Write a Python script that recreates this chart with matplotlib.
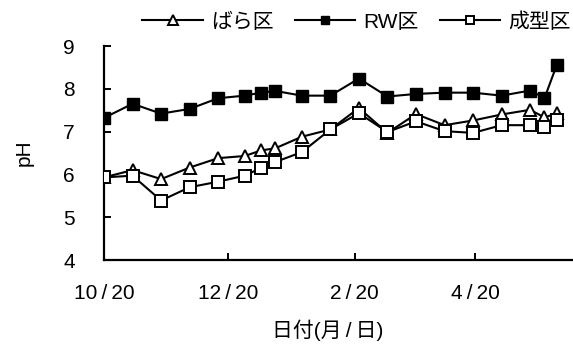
import matplotlib
matplotlib.use("Agg")
import matplotlib.pyplot as plt

plt.rcParams['font.family'] = ['Liberation Sans', 'Noto Sans CJK JP', 'DejaVu Sans']

# days since 10/20
days = [0, 14, 28, 42, 56, 69, 77, 84, 97, 111, 125, 139, 153, 167, 181, 195, 209, 216, 222]

bara = [5.93, 6.10, 5.89, 6.16, 6.38, 6.43, 6.56, 6.61, 6.88, 7.05,
        7.55, 6.97, 7.41, 7.15, 7.26, 7.40, 7.51, 7.33, 7.43]
rw = [7.32, 7.65, 7.42, 7.53, 7.78, 7.84, 7.91, 7.95, 7.84, 7.84,
      8.24, 7.82, 7.88, 7.91, 7.91, 7.84, 7.96, 7.78, 8.55]
seikei = [5.93, 5.97, 5.39, 5.70, 5.83, 5.97, 6.15, 6.29, 6.52, 7.05,
          7.43, 6.99, 7.24, 7.01, 6.97, 7.15, 7.15, 7.10, 7.28]

tick_days = [0, 61, 123, 182]
tick_labels = ["10\u2009/\u200920", "12\u2009/\u200920", "2\u2009/\u200920", "4\u2009/\u200920"]

W, H = 573, 345
fig = plt.figure(figsize=(W / 100, H / 100), dpi=100)
ax = fig.add_axes([104 / W, 85 / H, 1 - 104 / W, 214 / H])

lw = 1.5
ax.plot(days, bara, color="black", lw=lw, marker="^", ms=9, mfc="white",
        mec="black", mew=1.4, label="ばら区", zorder=3)
ax.plot(days, rw, color="black", lw=lw, marker="s", ms=8, mfc="black",
        mec="black", label="RW区", zorder=3)
ax.plot(days, seikei, color="black", lw=lw, marker="s", ms=8, mfc="white",
        mec="black", mew=1.4, label="成型区", zorder=4)

ax.set_xlim(0, 230)
ax.set_ylim(4, 9)
ax.set_yticks([4, 5, 6, 7, 8, 9])
ax.set_xticks(tick_days)
ax.set_xticklabels(tick_labels)

for side in ("top", "right"):
    ax.spines[side].set_visible(False)
for side in ("left", "bottom"):
    ax.spines[side].set_linewidth(1.6)

ax.tick_params(axis="y", direction="in", length=5, width=1.4, pad=21, labelsize=15)
ax.tick_params(axis="x", direction="in", length=5, width=1.4, pad=17, labelsize=15)

ax.set_xlabel("日付(月\u2009/\u2009日)", fontsize=15)
ax.xaxis.set_label_coords((328 - 104) / 469, -0.28)
ax.set_ylabel("pH", fontsize=15)
ax.yaxis.set_label_coords(-0.15, 0.5)

fig.legend(loc="center right", bbox_to_anchor=(571 / W, 1 - 22 / H), ncol=3,
           frameon=False, fontsize=15, borderpad=0, borderaxespad=0,
           handlelength=2.9, handletextpad=0.4, columnspacing=1.0,
           markerscale=0.8)

fig.savefig("out.png", dpi=100)
